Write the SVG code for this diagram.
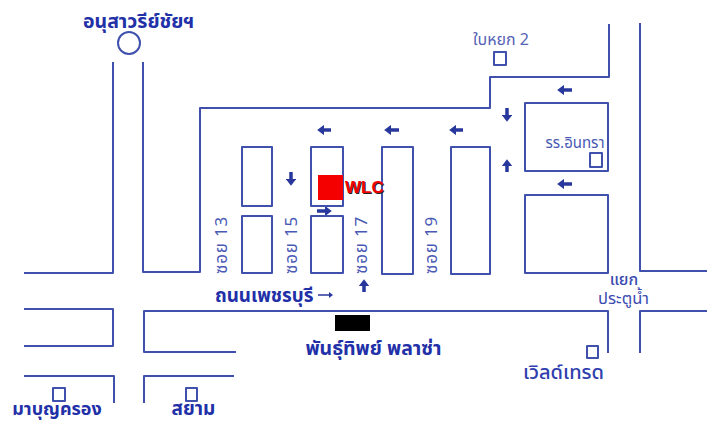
<svg xmlns="http://www.w3.org/2000/svg" width="707" height="423" viewBox="0 0 707 423">
<style>
.r{fill:none;stroke:#3f51ac;stroke-width:2;stroke-linejoin:round}
.a{fill:none;stroke:#27379c;stroke-width:3.5;marker-end:url(#h)}
text{font-family:"Noto Sans Thai","Noto Sans","DejaVu Sans","Liberation Sans",sans-serif;fill:#2f40ae}
.b{font-weight:700;fill:#2230a8}
.t{font-size:17px;letter-spacing:.8px;fill:#4a5ab4}
.w{font-family:"Liberation Sans",sans-serif;font-size:17px;font-weight:700}
</style>
<defs><marker id="h" markerWidth="3" markerHeight="3" refX="1.2" refY="1.5" orient="auto"><path d="M0 0L2 1.5L0 3Z" fill="#27379c"/></marker></defs>
<rect width="707" height="423" fill="#fff"/>
<g id="connectors">
<path class="r" d="M113 62V273H24M143 62V272H200V108H490V77H609V24M640 23V271H707"/>
<path class="r" d="M24 309H113V346H24M236 352H144V311H608V353M640 353V311H707M24 376H114V403M144 403V376H234"/>
<path class="a" d="M331 130H320"/><path class="a" d="M399 130H387"/><path class="a" d="M463 130H452"/>
<path class="a" d="M572 90H560"/><path class="a" d="M572 184H560"/>
<path class="a" d="M507 108V119"/><path class="a" d="M507 172V162"/><path class="a" d="M291 172V183"/>
<path class="a" d="M317 211H329"/><path class="a" d="M364 292V282"/>
<path d="M318 295H331" fill="none" stroke="#27379c" stroke-width="1.5"/><path d="M329 292L333 295L329 298Z" fill="#27379c"/>
</g>
<g id="victory"><circle class="r" cx="129" cy="43" r="11"/><text x="138.500" y="28" class="b" font-size="19.500" text-anchor="middle">อนุสาวรีย์ชัยฯ</text></g>
<g id="baiyok"><rect class="r" x="494" y="52" width="12" height="13"/><text x="501" y="45" font-size="16" text-anchor="middle" style="fill:#5563b5">ใบหยก 2</text></g>
<g id="block1"><rect class="r" x="242" y="147" width="30" height="59"/></g>
<g id="block2"><rect class="r" x="311" y="147" width="32" height="59"/></g>
<g id="block3"><rect class="r" x="382" y="147" width="31" height="127"/></g>
<g id="block4"><rect class="r" x="451" y="147" width="39" height="127"/></g>
<g id="block5"><rect class="r" x="242" y="216" width="30" height="57"/></g>
<g id="block6"><rect class="r" x="311" y="216" width="32" height="57"/></g>
<g id="block7"><rect class="r" x="525" y="103" width="83" height="68"/></g>
<g id="block8"><rect class="r" x="525" y="195" width="83" height="78"/></g>
<g id="school"><rect class="r" x="590" y="153" width="12" height="14"/><text x="575" y="148" font-size="15" text-anchor="middle" style="fill:#4a5ab4">รร.อินทรา</text></g>
<g id="wlc"><rect x="318" y="175" width="25" height="25" fill="#f40000"/><text x="346" y="194" class="w" style="fill:#222">WLC</text><text x="345" y="193" class="w" style="fill:#f00000">WLC</text></g>
<g id="soi13"><text class="t" transform="translate(227 274) rotate(-90)">ซอย 13</text></g>
<g id="soi15"><text class="t" transform="translate(297 274) rotate(-90)">ซอย 15</text></g>
<g id="soi17"><text class="t" transform="translate(367 274) rotate(-90)">ซอย 17</text></g>
<g id="soi19"><text class="t" transform="translate(437 274) rotate(-90)">ซอย 19</text></g>
<g id="petchburi"><text x="215" y="302" class="b" font-size="18.800">ถนนเพชรบุรี</text></g>
<g id="pantip"><rect x="335" y="315" width="35" height="16" fill="#000"/><text x="373.500" y="355" class="b" font-size="19.500" text-anchor="middle">พันธุ์ทิพย์ พลาซ่า</text></g>
<g id="junction"><text x="624" y="285" font-size="16" font-weight="500" text-anchor="middle" style="fill:#3a4ab0">แยก</text><text x="623.500" y="304" font-size="16.500" text-anchor="middle" style="fill:#3a4ab0">ประตูน้ำ</text></g>
<g id="worldtrade"><rect class="r" x="587" y="346" width="11" height="12"/><text x="563.500" y="379" font-size="20" font-weight="500" text-anchor="middle">เวิลด์เทรด</text></g>
<g id="mabun"><rect class="r" x="53" y="388" width="12" height="13"/><text x="57" y="415" class="b" font-size="18" text-anchor="middle">มาบุญครอง</text></g>
<g id="siam"><rect class="r" x="186" y="388" width="11" height="13"/><text x="193.500" y="415" class="b" font-size="19" text-anchor="middle">สยาม</text></g>
</svg>
